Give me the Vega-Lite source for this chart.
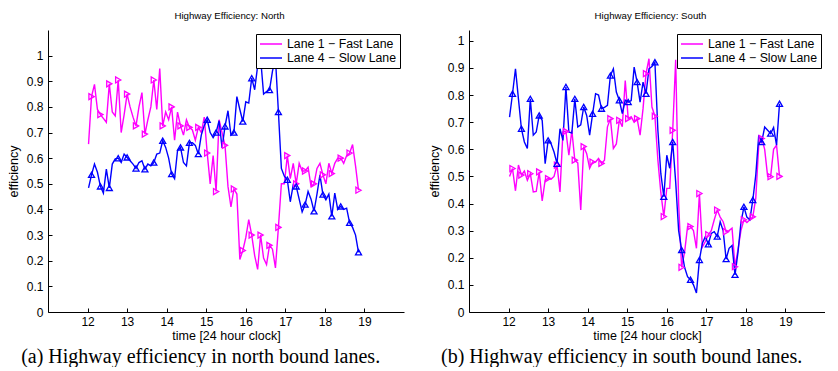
{
  "$schema": "https://vega.github.io/schema/vega-lite/v6.json",
  "background": "white",
  "padding": {"left": 7, "top": 11, "right": 0, "bottom": 0},
  "spacing": 24,
  "resolve": {"scale": {"color": "independent", "x": "independent", "y": "independent"}, "legend": {"color": "independent"}},
  "config": {
    "view": {"stroke": null},
    "font": "Liberation Sans",
    "axis": {"grid": false, "domainColor": "black", "tickColor": "black", "labelColor": "black", "titleColor": "black", "labelFont": "Liberation Sans", "titleFont": "Liberation Sans", "labelFontSize": 12, "titleFontSize": 12.5, "titleFontWeight": "normal", "tickSize": -4, "domainWidth": 1, "tickWidth": 1},
    "axisX": {"labelPadding": 8, "titlePadding": 2},
    "axisY": {"labelPadding": 9, "titlePadding": 6},
    "legend": {"orient": "top-right", "offset": 4, "title": null, "strokeColor": "black", "fillColor": "white", "padding": 3, "symbolType": "stroke", "symbolSize": 484, "symbolStrokeWidth": 1.5, "labelFont": "Liberation Sans", "labelFontSize": 12.3, "labelColor": "black", "clipHeight": 14, "rowPadding": 0, "labelOffset": 4},
    "title": {"font": "Liberation Sans", "fontSize": 9.7, "fontWeight": "normal", "color": "black"}
  },
  "datasets": {
    "north": [
      {"t": 12.025, "lane1": 0.655, "lane4": 0.484},
      {"t": 12.1, "lane1": 0.84, "lane4": 0.535},
      {"t": 12.175, "lane1": 0.888, "lane4": 0.577},
      {"t": 12.25, "lane1": 0.79, "lane4": 0.545},
      {"t": 12.325, "lane1": 0.77, "lane4": 0.49},
      {"t": 12.4, "lane1": 0.755, "lane4": 0.464},
      {"t": 12.475, "lane1": 0.74, "lane4": 0.557},
      {"t": 12.55, "lane1": 0.89, "lane4": 0.484},
      {"t": 12.625, "lane1": 0.78, "lane4": 0.577},
      {"t": 12.7, "lane1": 0.765, "lane4": 0.597},
      {"t": 12.775, "lane1": 0.905, "lane4": 0.6},
      {"t": 12.85, "lane1": 0.7, "lane4": 0.583},
      {"t": 12.925, "lane1": 0.77, "lane4": 0.616},
      {"t": 13.0, "lane1": 0.85, "lane4": 0.603},
      {"t": 13.075, "lane1": 0.8, "lane4": 0.59},
      {"t": 13.15, "lane1": 0.76, "lane4": 0.577},
      {"t": 13.225, "lane1": 0.726, "lane4": 0.56},
      {"t": 13.3, "lane1": 0.8, "lane4": 0.583},
      {"t": 13.375, "lane1": 0.856, "lane4": 0.59},
      {"t": 13.45, "lane1": 0.694, "lane4": 0.557},
      {"t": 13.525, "lane1": 0.75, "lane4": 0.577},
      {"t": 13.6, "lane1": 0.8, "lane4": 0.57},
      {"t": 13.675, "lane1": 0.905, "lane4": 0.583},
      {"t": 13.75, "lane1": 0.79, "lane4": 0.616},
      {"t": 13.825, "lane1": 0.95, "lane4": 0.62},
      {"t": 13.9, "lane1": 0.726, "lane4": 0.668},
      {"t": 13.975, "lane1": 0.78, "lane4": 0.642},
      {"t": 14.05, "lane1": 0.75, "lane4": 0.6},
      {"t": 14.125, "lane1": 0.8, "lane4": 0.538},
      {"t": 14.2, "lane1": 0.67, "lane4": 0.52},
      {"t": 14.275, "lane1": 0.78, "lane4": 0.63},
      {"t": 14.35, "lane1": 0.726, "lane4": 0.642},
      {"t": 14.425, "lane1": 0.69, "lane4": 0.583},
      {"t": 14.5, "lane1": 0.75, "lane4": 0.57},
      {"t": 14.575, "lane1": 0.72, "lane4": 0.66},
      {"t": 14.65, "lane1": 0.71, "lane4": 0.66},
      {"t": 14.725, "lane1": 0.67, "lane4": 0.65},
      {"t": 14.8, "lane1": 0.72, "lane4": 0.616},
      {"t": 14.875, "lane1": 0.7, "lane4": 0.69},
      {"t": 14.95, "lane1": 0.76, "lane4": 0.727},
      {"t": 15.025, "lane1": 0.62, "lane4": 0.75},
      {"t": 15.1, "lane1": 0.5, "lane4": 0.7},
      {"t": 15.175, "lane1": 0.61, "lane4": 0.68},
      {"t": 15.25, "lane1": 0.47, "lane4": 0.7},
      {"t": 15.325, "lane1": 0.75, "lane4": 0.746},
      {"t": 15.4, "lane1": 0.7, "lane4": 0.64},
      {"t": 15.475, "lane1": 0.65, "lane4": 0.724},
      {"t": 15.55, "lane1": 0.49, "lane4": 0.785},
      {"t": 15.625, "lane1": 0.41, "lane4": 0.69},
      {"t": 15.7, "lane1": 0.48, "lane4": 0.7},
      {"t": 15.775, "lane1": 0.46, "lane4": 0.84},
      {"t": 15.85, "lane1": 0.205, "lane4": 0.79},
      {"t": 15.925, "lane1": 0.24, "lane4": 0.743},
      {"t": 16.0, "lane1": 0.29, "lane4": 0.82},
      {"t": 16.075, "lane1": 0.36, "lane4": 0.815},
      {"t": 16.15, "lane1": 0.3, "lane4": 0.912},
      {"t": 16.225, "lane1": 0.22, "lane4": 0.867},
      {"t": 16.3, "lane1": 0.166, "lane4": 0.96},
      {"t": 16.375, "lane1": 0.3, "lane4": 0.99},
      {"t": 16.45, "lane1": 0.21, "lane4": 0.85},
      {"t": 16.525, "lane1": 0.185, "lane4": 0.86},
      {"t": 16.6, "lane1": 0.26, "lane4": 0.866},
      {"t": 16.675, "lane1": 0.245, "lane4": 0.94},
      {"t": 16.75, "lane1": 0.172, "lane4": 0.99},
      {"t": 16.825, "lane1": 0.33, "lane4": 0.78},
      {"t": 16.9, "lane1": 0.5, "lane4": 0.56},
      {"t": 16.975, "lane1": 0.5, "lane4": 0.53},
      {"t": 17.05, "lane1": 0.61, "lane4": 0.516},
      {"t": 17.125, "lane1": 0.52, "lane4": 0.43},
      {"t": 17.2, "lane1": 0.58, "lane4": 0.497},
      {"t": 17.275, "lane1": 0.5, "lane4": 0.49},
      {"t": 17.35, "lane1": 0.58, "lane4": 0.44},
      {"t": 17.425, "lane1": 0.55, "lane4": 0.39},
      {"t": 17.5, "lane1": 0.55, "lane4": 0.419},
      {"t": 17.575, "lane1": 0.565, "lane4": 0.47},
      {"t": 17.65, "lane1": 0.49, "lane4": 0.44},
      {"t": 17.725, "lane1": 0.5, "lane4": 0.393},
      {"t": 17.8, "lane1": 0.56, "lane4": 0.46},
      {"t": 17.875, "lane1": 0.58, "lane4": 0.535},
      {"t": 17.95, "lane1": 0.535, "lane4": 0.458},
      {"t": 18.025, "lane1": 0.5, "lane4": 0.438},
      {"t": 18.1, "lane1": 0.58, "lane4": 0.46},
      {"t": 18.175, "lane1": 0.54, "lane4": 0.373},
      {"t": 18.25, "lane1": 0.58, "lane4": 0.464},
      {"t": 18.325, "lane1": 0.6, "lane4": 0.4},
      {"t": 18.4, "lane1": 0.6, "lane4": 0.412},
      {"t": 18.475, "lane1": 0.58, "lane4": 0.4},
      {"t": 18.55, "lane1": 0.61, "lane4": 0.405},
      {"t": 18.625, "lane1": 0.62, "lane4": 0.348},
      {"t": 18.7, "lane1": 0.653, "lane4": 0.33},
      {"t": 18.775, "lane1": 0.57, "lane4": 0.3},
      {"t": 18.85, "lane1": 0.475, "lane4": 0.233}
    ],
    "south": [
      {"t": 12.025, "lane1": 0.5, "lane4": 0.719},
      {"t": 12.1, "lane1": 0.529, "lane4": 0.805},
      {"t": 12.175, "lane1": 0.447, "lane4": 0.897},
      {"t": 12.25, "lane1": 0.542, "lane4": 0.786},
      {"t": 12.325, "lane1": 0.505, "lane4": 0.676},
      {"t": 12.4, "lane1": 0.52, "lane4": 0.627},
      {"t": 12.475, "lane1": 0.486, "lane4": 0.603},
      {"t": 12.55, "lane1": 0.51, "lane4": 0.786},
      {"t": 12.625, "lane1": 0.443, "lane4": 0.652},
      {"t": 12.7, "lane1": 0.445, "lane4": 0.664},
      {"t": 12.775, "lane1": 0.517, "lane4": 0.725},
      {"t": 12.85, "lane1": 0.41, "lane4": 0.707},
      {"t": 12.925, "lane1": 0.486, "lane4": 0.547},
      {"t": 13.0, "lane1": 0.492, "lane4": 0.633},
      {"t": 13.075, "lane1": 0.49, "lane4": 0.62},
      {"t": 13.15, "lane1": 0.5, "lane4": 0.59},
      {"t": 13.225, "lane1": 0.542, "lane4": 0.547},
      {"t": 13.3, "lane1": 0.443, "lane4": 0.676},
      {"t": 13.375, "lane1": 0.664, "lane4": 0.633},
      {"t": 13.45, "lane1": 0.666, "lane4": 0.83},
      {"t": 13.525, "lane1": 0.578, "lane4": 0.664},
      {"t": 13.6, "lane1": 0.67, "lane4": 0.66},
      {"t": 13.675, "lane1": 0.56, "lane4": 0.786},
      {"t": 13.75, "lane1": 0.55, "lane4": 0.682},
      {"t": 13.825, "lane1": 0.376, "lane4": 0.69},
      {"t": 13.9, "lane1": 0.61, "lane4": 0.756},
      {"t": 13.975, "lane1": 0.584, "lane4": 0.725},
      {"t": 14.05, "lane1": 0.53, "lane4": 0.652},
      {"t": 14.125, "lane1": 0.553, "lane4": 0.731},
      {"t": 14.2, "lane1": 0.553, "lane4": 0.805},
      {"t": 14.275, "lane1": 0.566, "lane4": 0.8},
      {"t": 14.35, "lane1": 0.548, "lane4": 0.75},
      {"t": 14.425, "lane1": 0.56, "lane4": 0.755},
      {"t": 14.5, "lane1": 0.683, "lane4": 0.762},
      {"t": 14.575, "lane1": 0.713, "lane4": 0.872},
      {"t": 14.65, "lane1": 0.603, "lane4": 0.897},
      {"t": 14.725, "lane1": 0.62, "lane4": 0.811},
      {"t": 14.8, "lane1": 0.707, "lane4": 0.781},
      {"t": 14.875, "lane1": 0.683, "lane4": 0.732},
      {"t": 14.95, "lane1": 0.854, "lane4": 0.781},
      {"t": 15.025, "lane1": 0.713, "lane4": 0.774},
      {"t": 15.1, "lane1": 0.72, "lane4": 0.78},
      {"t": 15.175, "lane1": 0.7, "lane4": 0.903},
      {"t": 15.25, "lane1": 0.713, "lane4": 0.848},
      {"t": 15.325, "lane1": 0.652, "lane4": 0.774},
      {"t": 15.4, "lane1": 0.75, "lane4": 0.848},
      {"t": 15.475, "lane1": 0.879, "lane4": 0.805},
      {"t": 15.55, "lane1": 0.934, "lane4": 0.897},
      {"t": 15.625, "lane1": 0.756, "lane4": 0.905},
      {"t": 15.7, "lane1": 0.722, "lane4": 0.921},
      {"t": 15.775, "lane1": 0.56, "lane4": 0.67},
      {"t": 15.85, "lane1": 0.44, "lane4": 0.51},
      {"t": 15.925, "lane1": 0.352, "lane4": 0.425},
      {"t": 16.0, "lane1": 0.456, "lane4": 0.578},
      {"t": 16.075, "lane1": 0.456, "lane4": 0.53},
      {"t": 16.15, "lane1": 0.67, "lane4": 0.627},
      {"t": 16.225, "lane1": 0.93, "lane4": 0.48},
      {"t": 16.3, "lane1": 0.4, "lane4": 0.3},
      {"t": 16.375, "lane1": 0.165, "lane4": 0.229},
      {"t": 16.45, "lane1": 0.22, "lane4": 0.165},
      {"t": 16.525, "lane1": 0.315, "lane4": 0.13},
      {"t": 16.6, "lane1": 0.315, "lane4": 0.119},
      {"t": 16.675, "lane1": 0.3, "lane4": 0.1},
      {"t": 16.75, "lane1": 0.235, "lane4": 0.07},
      {"t": 16.825, "lane1": 0.437, "lane4": 0.192},
      {"t": 16.9, "lane1": 0.24, "lane4": 0.254},
      {"t": 16.975, "lane1": 0.26, "lane4": 0.278},
      {"t": 17.05, "lane1": 0.285, "lane4": 0.25},
      {"t": 17.125, "lane1": 0.3, "lane4": 0.29},
      {"t": 17.2, "lane1": 0.34, "lane4": 0.296},
      {"t": 17.275, "lane1": 0.376, "lane4": 0.278},
      {"t": 17.35, "lane1": 0.35, "lane4": 0.333},
      {"t": 17.425, "lane1": 0.333, "lane4": 0.3},
      {"t": 17.5, "lane1": 0.296, "lane4": 0.195},
      {"t": 17.575, "lane1": 0.3, "lane4": 0.235},
      {"t": 17.65, "lane1": 0.309, "lane4": 0.245},
      {"t": 17.725, "lane1": 0.167, "lane4": 0.137},
      {"t": 17.8, "lane1": 0.23, "lane4": 0.22},
      {"t": 17.875, "lane1": 0.3, "lane4": 0.33},
      {"t": 17.95, "lane1": 0.34, "lane4": 0.388},
      {"t": 18.025, "lane1": 0.33, "lane4": 0.35},
      {"t": 18.1, "lane1": 0.34, "lane4": 0.34},
      {"t": 18.175, "lane1": 0.351, "lane4": 0.413},
      {"t": 18.25, "lane1": 0.42, "lane4": 0.505},
      {"t": 18.325, "lane1": 0.615, "lane4": 0.652},
      {"t": 18.4, "lane1": 0.64, "lane4": 0.627},
      {"t": 18.475, "lane1": 0.6, "lane4": 0.682},
      {"t": 18.55, "lane1": 0.5, "lane4": 0.67},
      {"t": 18.625, "lane1": 0.499, "lane4": 0.658},
      {"t": 18.7, "lane1": 0.6, "lane4": 0.68},
      {"t": 18.775, "lane1": 0.615, "lane4": 0.615},
      {"t": 18.85, "lane1": 0.5, "lane4": 0.768}
    ]
  },
  "hconcat": [
    {
      "title": {"text": "(a) Highway efficiency in north bound lanes.", "orient": "bottom", "font": "Liberation Serif", "fontSize": 20, "anchor": "middle", "offset": 0, "dx": -5, "dy": 5},
      "resolve": {"scale": {"color": "independent"}, "legend": {"color": "independent"}},
      "vconcat": [
        {
          "width": 356, "height": 282,
          "title": {"text": "Highway Efficiency:  North", "offset": 9, "dx": 3.5},
          "data": {"name": "north"},
          "transform": [
            {"fold": ["lane1", "lane4"], "as": ["lane", "efficiency"]},
            {"window": [{"op": "row_number", "as": "idx"}], "groupby": ["lane"], "sort": [{"field": "t"}]}
          ],
          "encoding": {
            "x": {"field": "t", "type": "quantitative", "scale": {"domain": [11, 20], "nice": false, "zero": false}, "axis": {"values": [12, 13, 14, 15, 16, 17, 18, 19], "title": "time [24 hour clock]"}},
            "y": {"field": "efficiency", "type": "quantitative", "scale": {"domain": [0, 1.1], "nice": false}, "axis": {"values": [0, 0.1, 0.2, 0.3, 0.4, 0.5, 0.6, 0.7, 0.8, 0.9, 1], "format": "~g", "title": "efficiency"}}
          },
          "layer": [
            {"mark": {"type": "line", "strokeWidth": 1.4}, "encoding": {"color": {"field": "lane", "type": "nominal", "scale": {"domain": ["lane1", "lane4"], "range": ["#ff00ff", "#0000ff"]}, "legend": {"symbolType": "stroke", "labelExpr": "datum.value == 'lane1' ? 'Lane 1 − Fast Lane' : 'Lane 4 − Slow Lane'"}}}},
            {"transform": [{"filter": "datum.idx % 3 == 2 && datum.lane == 'lane1'"}], "mark": {"type": "point", "shape": "triangle-right", "color": "#ff00ff", "filled": false, "opacity": 1, "size": 36, "strokeWidth": 1.3}},
            {"transform": [{"filter": "datum.idx % 3 == 2 && datum.lane == 'lane4'"}], "mark": {"type": "point", "shape": "triangle-up", "color": "#0000ff", "filled": false, "opacity": 1, "size": 36, "strokeWidth": 1.3}}
          ]
        }
      ]
    },
    {
      "title": {"text": "(b) Highway efficiency in south bound lanes.", "orient": "bottom", "font": "Liberation Serif", "fontSize": 20, "anchor": "middle", "offset": 0, "dx": -5, "dy": 5},
      "resolve": {"scale": {"color": "independent"}, "legend": {"color": "independent"}},
      "vconcat": [
        {
          "width": 356, "height": 282,
          "title": {"text": "Highway Efficiency:  South", "offset": 9, "dx": 3.5},
          "data": {"name": "south"},
          "transform": [
            {"fold": ["lane1", "lane4"], "as": ["lane", "efficiency"]},
            {"window": [{"op": "row_number", "as": "idx"}], "groupby": ["lane"], "sort": [{"field": "t"}]}
          ],
          "encoding": {
            "x": {"field": "t", "type": "quantitative", "scale": {"domain": [11, 20], "nice": false, "zero": false}, "axis": {"values": [12, 13, 14, 15, 16, 17, 18, 19], "title": "time [24 hour clock]"}},
            "y": {"field": "efficiency", "type": "quantitative", "scale": {"domain": [0, 1.04], "nice": false}, "axis": {"values": [0, 0.1, 0.2, 0.3, 0.4, 0.5, 0.6, 0.7, 0.8, 0.9, 1], "format": "~g", "title": "efficiency"}}
          },
          "layer": [
            {"mark": {"type": "line", "strokeWidth": 1.4}, "encoding": {"color": {"field": "lane", "type": "nominal", "scale": {"domain": ["lane1", "lane4"], "range": ["#ff00ff", "#0000ff"]}, "legend": {"symbolType": "stroke", "labelExpr": "datum.value == 'lane1' ? 'Lane 1 − Fast Lane' : 'Lane 4 − Slow Lane'"}}}},
            {"transform": [{"filter": "datum.idx % 3 == 2 && datum.lane == 'lane1'"}], "mark": {"type": "point", "shape": "triangle-right", "color": "#ff00ff", "filled": false, "opacity": 1, "size": 36, "strokeWidth": 1.3}},
            {"transform": [{"filter": "datum.idx % 3 == 2 && datum.lane == 'lane4'"}], "mark": {"type": "point", "shape": "triangle-up", "color": "#0000ff", "filled": false, "opacity": 1, "size": 36, "strokeWidth": 1.3}}
          ]
        }
      ]
    }
  ]
}
